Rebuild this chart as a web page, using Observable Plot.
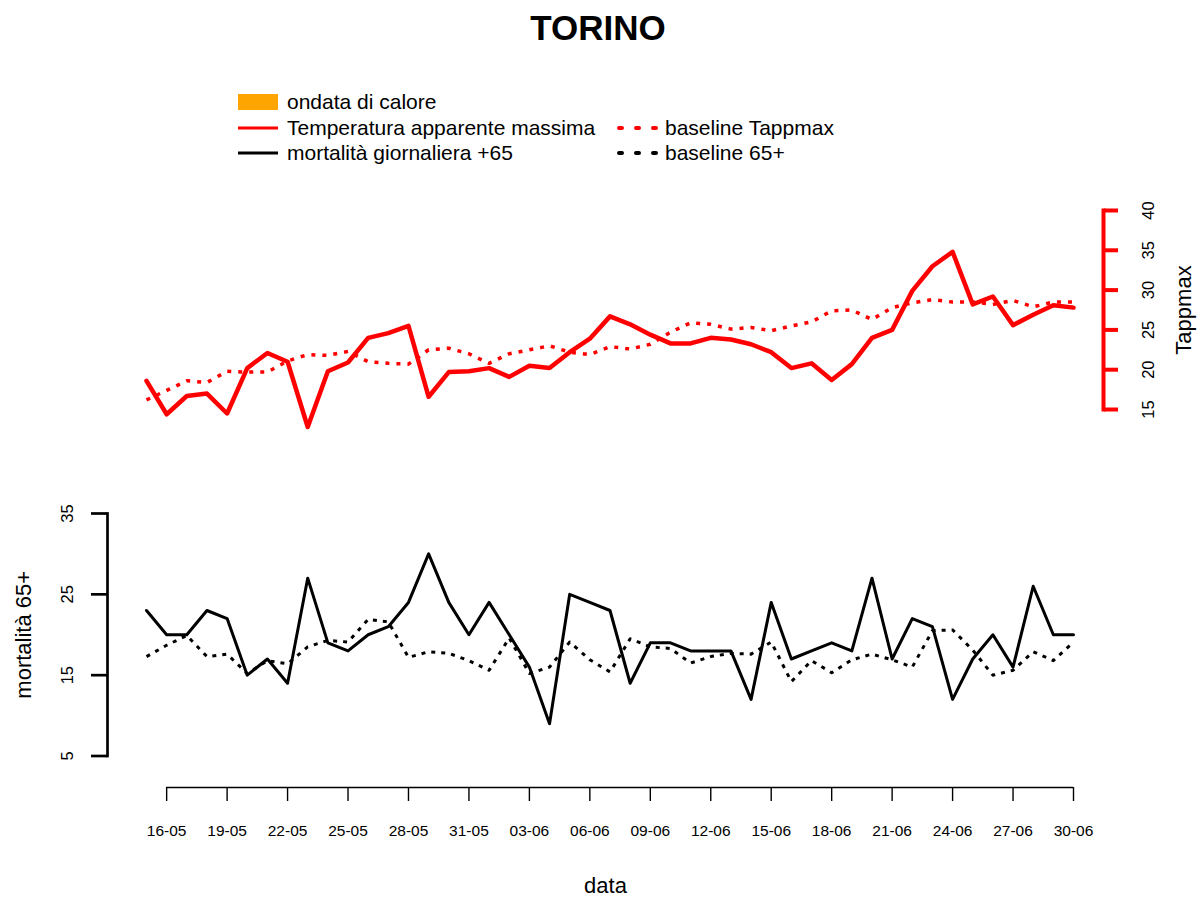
<!DOCTYPE html>
<html>
<head>
<meta charset="utf-8">
<script src="https://cdn.jsdelivr.net/npm/d3@7"></script>
<script src="https://cdn.jsdelivr.net/npm/@observablehq/plot@0.6"></script>
<style>
  body { margin: 0; background: #fff; font-family: "Liberation Sans", Arial, Helvetica, sans-serif; }
  #wrap { position: relative; width: 1200px; height: 897px; overflow: hidden; background: #fff; }
  #title { position: absolute; left: 0; top: 8px; width: 1196px; text-align: center; font-weight: bold; font-size: 35px; line-height: 40px; color: #000; }
  .leg { position: absolute; font-size: 21px; line-height: 24px; color: #000; white-space: nowrap; display: flex; align-items: center; }
  .leg svg { margin-right: 9px; }
  #topPlot { position: absolute; left: 0; top: 180px; }
  #botPlot { position: absolute; left: 0; top: 440px; }
</style>
</head>
<body>
<div id="wrap">
  <div id="title">TORINO</div>
  <div class="leg" style="left:238px; top:90px;"><svg width="40" height="18"><rect x="0" y="1" width="40" height="16" fill="orange"></rect></svg>ondata di calore</div>
  <div class="leg" style="left:238px; top:116px;"><svg width="40" height="10"><line x1="0" x2="40" y1="5" y2="5" stroke="red" stroke-width="3"></line></svg>Temperatura apparente massima</div>
  <div class="leg" style="left:238px; top:141px;"><svg width="40" height="10"><line x1="0" x2="40" y1="5" y2="5" stroke="black" stroke-width="3"></line></svg>mortalità giornaliera +65</div>
  <div class="leg" style="left:612px; top:116px;"><svg width="47" height="10" style="margin-right:6px"><line x1="7" x2="47" y1="5" y2="5" stroke="red" stroke-width="4" stroke-linecap="round" stroke-dasharray="3,14"></line></svg>baseline Tappmax</div>
  <div class="leg" style="left:612px; top:141px;"><svg width="47" height="10" style="margin-right:6px"><line x1="7" x2="47" y1="5" y2="5" stroke="black" stroke-width="4" stroke-linecap="round" stroke-dasharray="3,14"></line></svg>baseline 65+</div>
  <div id="topPlot"></div>
  <div id="botPlot"></div>
</div>
<script>
// ---- data (15-05 .. 30-06) ----
const startDate = "2019-05-15";
const endDate = "2019-06-30";
const tappmax = [18.6,14.4,16.7,17.0,14.5,20.2,22.1,21.0,12.8,19.8,
                 20.9,24.0,24.6,25.5,16.6,19.7,19.8,20.2,19.1,20.5,
                 20.2,22.2,23.9,26.7,25.7,24.4,23.3,23.3,24.0,23.8,
                 23.2,22.2,20.2,20.8,18.7,20.7,24.0,25.0,29.9,33.0,
                 34.8,28.2,29.2,25.6,26.9,28.1,27.8];
const baselineTapp = [16.2,17.4,18.6,18.4,19.8,19.7,19.7,21.1,21.9,21.8,
                      22.3,21.0,20.8,20.7,22.5,22.7,22.0,20.8,22.0,22.5,
                      23.0,22.2,21.9,22.9,22.6,23.2,24.7,25.9,25.7,25.1,
                      25.3,24.9,25.5,26.0,27.4,27.5,26.3,27.8,28.4,28.8,
                      28.5,28.5,28.2,28.7,27.9,28.5,28.5];
const mortalita = [23,20,20,23,22,15,17,14,27,19,
                   18,20,21,24,30,24,20,24,20,16,
                   9,25,24,23,14,19,19,18,18,18,
                   12,24,17,18,19,18,27,17,22,21,
                   12,17,20,16,26,20,20];
const baselineMort = [17.3,18.7,19.9,17.3,17.6,15.2,16.8,16.4,18.5,19.3,
                      19.1,21.9,21.6,17.2,17.9,17.7,16.8,15.6,19.6,15.2,
                      16.0,19.1,16.9,15.4,19.5,18.5,18.3,16.5,17.3,17.7,
                      17.6,19.1,14.2,16.8,15.3,16.9,17.6,16.9,16.0,20.5,
                      20.6,18.1,15.0,15.6,17.9,16.8,19.1];
const xTickLabels = ["16-05","19-05","22-05","25-05","28-05","31-05","03-06","06-06",
                     "09-06","12-06","15-06","18-06","21-06","24-06","27-06","30-06"];
const tappTicks = [15,20,25,30,35,40];
const mortTicks = [5,15,25,35];

// ---- build table ----
const parseISO = d3.utcParse("%Y-%m-%d");
const d0 = parseISO(startDate), d1 = parseISO(endDate);
const dates = d3.utcDay.range(d0, d3.utcDay.offset(d1, 1));
const rows = dates.map((date, i) => ({date, tapp: tappmax[i], btapp: baselineTapp[i], mort: mortalita[i], bmort: baselineMort[i]}));
const parseTick = d3.utcParse("%d-%m-%Y");
const xTicks = xTickLabels.map(s => parseTick(s + "-2019"));

const font = '"Liberation Sans", Arial, Helvetica, sans-serif';
const xScale = {type: "utc", domain: [d0, d1], range: [146, 1073]};

// ---- top panel: apparent max temperature ----
const topChart = Plot.plot({
  width: 1200, height: 260,
  marginTop: 30, marginBottom: 31, marginLeft: 107, marginRight: 97,
  x: {...xScale, axis: null},
  y: {domain: [15, 40], axis: null},
  style: {fontFamily: font, fontSize: "16px", color: "#000", background: "transparent", overflow: "visible"},
  marks: [
    Plot.frame({anchor: "right", stroke: "red", strokeWidth: 4}),
    Plot.axisY({anchor: "right", ticks: tappTicks, tickSize: 14, stroke: "red", strokeWidth: 4, fill: "none", label: null}),
    Plot.text(tappTicks, {y: d => d, text: d => String(d), frameAnchor: "right", dx: 45, rotate: -90, textAnchor: "middle", lineAnchor: "middle", fontSize: 16.5, fill: "#000"}),
    Plot.text(["Tappmax"], {frameAnchor: "right", dx: 80, rotate: -90, textAnchor: "middle", lineAnchor: "middle", fontSize: 22, fill: "#000"}),
    Plot.line(rows, {x: "date", y: "btapp", stroke: "red", strokeWidth: 3.5, strokeDasharray: "4,7", strokeLinecap: "butt"}),
    Plot.line(rows, {x: "date", y: "tapp", stroke: "red", strokeWidth: 4.5, strokeLinejoin: "round"})
  ]
});
document.getElementById("topPlot").appendChild(topChart);

// ---- bottom panel: daily mortality 65+ ----
const botChart = Plot.plot({
  width: 1200, height: 457,
  marginTop: 73, marginBottom: 141.5, marginLeft: 107, marginRight: 97,
  x: {...xScale, axis: null},
  y: {domain: [5, 35], axis: null},
  style: {fontFamily: font, fontSize: "16px", color: "#000", background: "transparent", overflow: "visible"},
  marks: [
    Plot.frame({anchor: "left", stroke: "#000", strokeWidth: 2.7}),
    Plot.axisY({anchor: "left", ticks: mortTicks, tickSize: 16, stroke: "#000", strokeWidth: 2.7, fill: "none", label: null}),
    Plot.text(mortTicks, {y: d => d, text: d => String(d), frameAnchor: "left", dx: -40, rotate: -90, textAnchor: "middle", lineAnchor: "middle", fontSize: 16.5, fill: "#000"}),
    Plot.text(["mortalità 65+"], {frameAnchor: "left", dx: -84, rotate: -90, textAnchor: "middle", lineAnchor: "middle", fontSize: 22, fill: "#000"}),
    Plot.ruleY([5], {x1: xTicks[0], x2: xTicks[xTicks.length - 1], dy: 31.5, stroke: "#000", strokeWidth: 1.4}),
    Plot.axisX({anchor: "bottom", ticks: xTicks, tickFormat: d3.utcFormat("%d-%m"), tickSize: 14, tickPadding: 23, dy: 31.5, strokeWidth: 1.4, fontSize: 15.5, label: null}),
    Plot.text(["data"], {frameAnchor: "bottom", dy: 129.5, textAnchor: "middle", lineAnchor: "middle", fontSize: 22, fill: "#000"}),
    Plot.line(rows, {x: "date", y: "bmort", stroke: "#000", strokeWidth: 3, strokeDasharray: "4,6", strokeLinecap: "butt"}),
    Plot.line(rows, {x: "date", y: "mort", stroke: "#000", strokeWidth: 3, strokeLinejoin: "round"})
  ]
});
document.getElementById("botPlot").appendChild(botChart);
</script>
</body>
</html>
